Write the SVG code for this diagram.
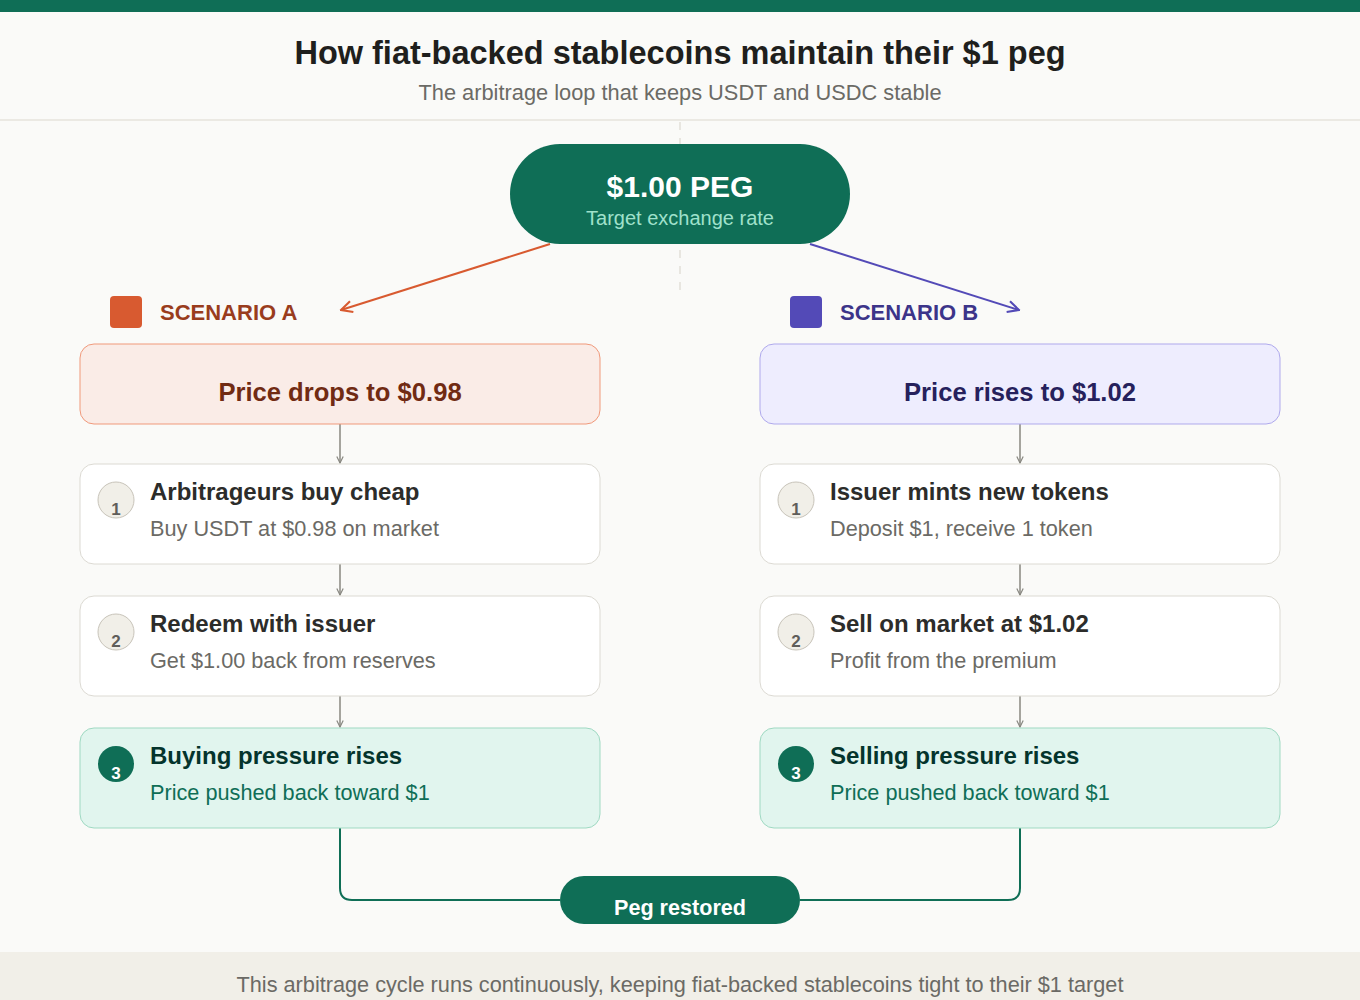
<svg xmlns="http://www.w3.org/2000/svg" width="1360" height="1000" viewBox="0 0 1360 1000">
<defs>
<marker id="ag" viewBox="0 0 10 10" refX="9" refY="5" markerWidth="8" markerHeight="8" markerUnits="userSpaceOnUse" orient="auto"><path d="M1,1 L9,5 L1,9" fill="none" stroke="#888780" stroke-width="1.5"/></marker>
<marker id="ao" viewBox="0 0 10 10" refX="9" refY="5" markerWidth="14" markerHeight="14" markerUnits="userSpaceOnUse" orient="auto"><path d="M1,1 L9,5 L1,9" fill="none" stroke="#d85a30" stroke-width="1.5"/></marker>
<marker id="ap" viewBox="0 0 10 10" refX="9" refY="5" markerWidth="14" markerHeight="14" markerUnits="userSpaceOnUse" orient="auto"><path d="M1,1 L9,5 L1,9" fill="none" stroke="#534ab7" stroke-width="1.5"/></marker>
</defs>
<style>
text{font-family:"Liberation Sans",Arial,sans-serif}
.step{fill:#ffffff;stroke:#dcdad3;stroke-width:1}
.good{fill:#e1f5ee;stroke:#9fd9c2;stroke-width:1}
.num{fill:#f1efe8;stroke:#c8c4ba;stroke-width:1}
.numt{font-size:17px;font-weight:bold;fill:#5f5e5a;text-anchor:middle}
.st{font-size:24px;font-weight:bold;fill:#2c2c2a}
.ss{font-size:21.7px;fill:#6b6a65}
.gt{font-size:24px;font-weight:bold;fill:#04342c}
.gs{font-size:21.7px;fill:#0f6e56}
.conn{fill:none;stroke:#888780;stroke-width:1.5}
</style>
<rect width="1360" height="1000" fill="#fafaf8"/>
<rect width="1360" height="12" fill="#0f6e56"/>
<text x="680" y="64" font-size="32.5" font-weight="bold" fill="#1f1f1d" text-anchor="middle">How fiat-backed stablecoins maintain their $1 peg</text>
<text x="680" y="100" font-size="21.8" fill="#6b6a65" text-anchor="middle">The arbitrage loop that keeps USDT and USDC stable</text>
<line x1="0" y1="120" x2="1360" y2="120" stroke="#ebe9e3" stroke-width="2"/>
<line x1="680" y1="122" x2="680" y2="290" stroke="#e8e6e0" stroke-width="2" stroke-dasharray="8,8"/>

<g id="connectors">
<line x1="550" y1="244" x2="341" y2="310" stroke="#d85a30" stroke-width="2" marker-end="url(#ao)"/>
<line x1="810" y1="244" x2="1019" y2="310" stroke="#534ab7" stroke-width="2" marker-end="url(#ap)"/>
<line class="conn" x1="340" y1="424" x2="340" y2="463" marker-end="url(#ag)"/>
<line class="conn" x1="340" y1="564" x2="340" y2="595" marker-end="url(#ag)"/>
<line class="conn" x1="340" y1="696" x2="340" y2="727" marker-end="url(#ag)"/>
<line class="conn" x1="1020" y1="424" x2="1020" y2="463" marker-end="url(#ag)"/>
<line class="conn" x1="1020" y1="564" x2="1020" y2="595" marker-end="url(#ag)"/>
<line class="conn" x1="1020" y1="696" x2="1020" y2="727" marker-end="url(#ag)"/>
<path d="M340,828 L340,888 Q340,900 352,900 L560,900" fill="none" stroke="#0f6e56" stroke-width="2"/>
<path d="M1020,828 L1020,888 Q1020,900 1008,900 L800,900" fill="none" stroke="#0f6e56" stroke-width="2"/>
</g>

<g id="peg">
<rect x="510" y="144" width="340" height="100" rx="50" fill="#0f6e56"/>
<text x="680" y="197" font-size="30" font-weight="bold" fill="#ffffff" text-anchor="middle">$1.00 PEG</text>
<text x="680" y="225" font-size="20" fill="#9fe1cb" text-anchor="middle">Target exchange rate</text>
</g>

<g id="scenario-a-label">
<rect x="110" y="296" width="32" height="32" rx="4" fill="#d85a30"/>
<text x="160" y="320" font-size="22" font-weight="bold" fill="#993c1d">SCENARIO A</text>
</g>
<g id="scenario-b-label">
<rect x="790" y="296" width="32" height="32" rx="4" fill="#534ab7"/>
<text x="840" y="320" font-size="22" font-weight="bold" fill="#3c3489">SCENARIO B</text>
</g>

<g id="a-trigger">
<rect x="80" y="344" width="520" height="80" rx="14" fill="#faece7" stroke="#f0997b" stroke-width="1"/>
<text x="340" y="401" font-size="25.6" font-weight="bold" fill="#712b13" text-anchor="middle">Price drops to $0.98</text>
</g>
<g id="b-trigger">
<rect x="760" y="344" width="520" height="80" rx="14" fill="#eeedfe" stroke="#afa9ec" stroke-width="1"/>
<text x="1020" y="401" font-size="25.6" font-weight="bold" fill="#26215c" text-anchor="middle">Price rises to $1.02</text>
</g>

<g id="a-step1">
<rect class="step" x="80" y="464" width="520" height="100" rx="14"/>
<circle class="num" cx="116" cy="500" r="18"/>
<text class="numt" x="116" y="515">1</text>
<text class="st" x="150" y="500">Arbitrageurs buy cheap</text>
<text class="ss" x="150" y="536">Buy USDT at $0.98 on market</text>
</g>
<g id="a-step2">
<rect class="step" x="80" y="596" width="520" height="100" rx="14"/>
<circle class="num" cx="116" cy="632" r="18"/>
<text class="numt" x="116" y="647">2</text>
<text class="st" x="150" y="632">Redeem with issuer</text>
<text class="ss" x="150" y="668">Get $1.00 back from reserves</text>
</g>
<g id="a-step3">
<rect class="good" x="80" y="728" width="520" height="100" rx="14"/>
<circle cx="116" cy="764" r="18" fill="#0f6e56"/>
<text class="numt" x="116" y="779" style="fill:#ffffff">3</text>
<text class="gt" x="150" y="764">Buying pressure rises</text>
<text class="gs" x="150" y="800">Price pushed back toward $1</text>
</g>

<g id="b-step1">
<rect class="step" x="760" y="464" width="520" height="100" rx="14"/>
<circle class="num" cx="796" cy="500" r="18"/>
<text class="numt" x="796" y="515">1</text>
<text class="st" x="830" y="500">Issuer mints new tokens</text>
<text class="ss" x="830" y="536">Deposit $1, receive 1 token</text>
</g>
<g id="b-step2">
<rect class="step" x="760" y="596" width="520" height="100" rx="14"/>
<circle class="num" cx="796" cy="632" r="18"/>
<text class="numt" x="796" y="647">2</text>
<text class="st" x="830" y="632">Sell on market at $1.02</text>
<text class="ss" x="830" y="668">Profit from the premium</text>
</g>
<g id="b-step3">
<rect class="good" x="760" y="728" width="520" height="100" rx="14"/>
<circle cx="796" cy="764" r="18" fill="#0f6e56"/>
<text class="numt" x="796" y="779" style="fill:#ffffff">3</text>
<text class="gt" x="830" y="764">Selling pressure rises</text>
<text class="gs" x="830" y="800">Price pushed back toward $1</text>
</g>

<g id="restored">
<rect x="560" y="876" width="240" height="48" rx="24" fill="#0f6e56"/>
<text x="680" y="915" font-size="21.6" font-weight="bold" fill="#ffffff" text-anchor="middle">Peg restored</text>
</g>

<g id="footer">
<rect x="0" y="952" width="1360" height="48" fill="#f1efe8"/>
<text x="680" y="992" font-size="21.7" fill="#6b6a65" text-anchor="middle">This arbitrage cycle runs continuously, keeping fiat-backed stablecoins tight to their $1 target</text>
</g>
</svg>
